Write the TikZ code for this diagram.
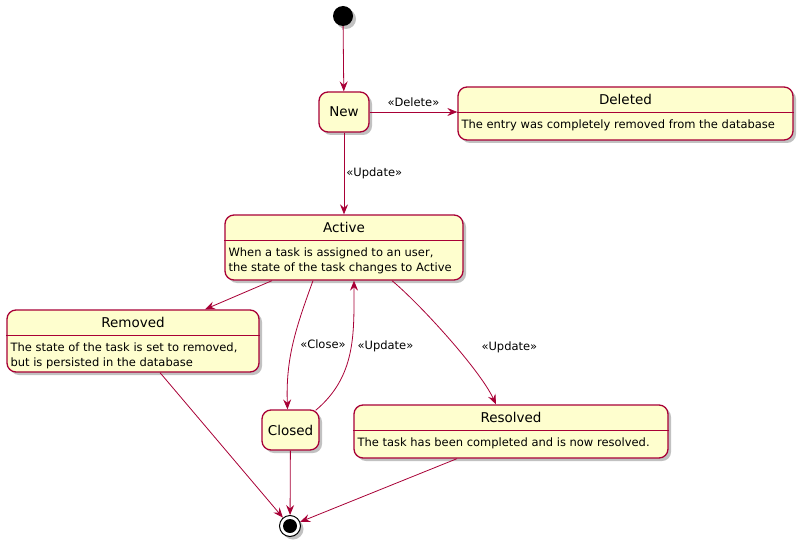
\documentclass[tikz,border=0pt]{standalone}
\usepackage{fontspec}
\setmainfont{DejaVu Sans}
\usetikzlibrary{arrows.meta, positioning, calc, shadows}

\definecolor{umlred}{HTML}{A80036}
\definecolor{umlfill}{HTML}{FEFECE}

\begin{document}
\begin{tikzpicture}[
        x=1pt, y=-1pt,
        state/.style={rectangle, draw=umlred, line width=1.3pt, fill=umlfill, rounded corners=9pt, inner sep=0pt,
            drop shadow={shadow xshift=3pt, shadow yshift=-3pt, opacity=0.35, fill=black!70}},
        title/.style={font=\fontsize{13.5}{15}\selectfont, inner sep=0pt},
        desc/.style={font=\fontsize{11.5}{15}\selectfont, align=left, inner sep=0pt, anchor=north west},
        divider/.style={draw=umlred, line width=1pt},
        trans/.style={-{Stealth[length=10pt, width=8pt, inset=3.5pt]}, draw=umlred, line width=0.8pt},
        label/.style={font=\fontsize{11.5}{13}\selectfont, inner sep=1pt}
    ]
        \useasboundingbox (0,0) rectangle (805,548);
        % start and end
        \node[circle, fill=black, minimum size=20pt, inner sep=0pt,
            drop shadow={shadow xshift=3pt, shadow yshift=-3pt, opacity=0.35, fill=black!70}] (start) at (343,16) {};
        \node[circle, draw=black, line width=1pt, fill=white, minimum size=21pt, inner sep=0pt,
            drop shadow={shadow xshift=3pt, shadow yshift=-3pt, opacity=0.35, fill=black!70}] (end) at (290,526) {};
        \fill[black] (end) circle (7pt);
        % simple states
        \node[state, minimum width=50pt, minimum height=40pt, font=\fontsize{13.5}{15}\selectfont] (new) at (344,112) {New};
        \node[state, minimum width=57pt, minimum height=40pt, font=\fontsize{13.5}{15}\selectfont] (closed) at (290.5,430) {Closed};
        % states with description
        \node[state, minimum width=335pt, minimum height=53pt] (deleted) at (625.5,113.5) {};
        \node[title] (deletedt) at ([yshift=-13]deleted.north) {Deleted};
        \draw[divider] ([yshift=-26]deleted.north west) -- ([yshift=-26]deleted.north east);
        \node[desc] (deletedd) at ([xshift=4, yshift=-33]deleted.north west) {The entry was completely removed from the database};

        \node[state, minimum width=238pt, minimum height=65pt] (active) at (344,247.5) {};
        \node[title] (activet) at ([yshift=-13]active.north) {Active};
        \draw[divider] ([yshift=-26]active.north west) -- ([yshift=-26]active.north east);
        \node[desc] (actived) at ([xshift=4, yshift=-33]active.north west) {When a task is assigned to an user,\\the state of the task changes to Active};

        \node[state, minimum width=252pt, minimum height=62pt] (removed) at (133,341) {};
        \node[title] (removedt) at ([yshift=-13]removed.north) {Removed};
        \draw[divider] ([yshift=-26]removed.north west) -- ([yshift=-26]removed.north east);
        \node[desc] (removedd) at ([xshift=4, yshift=-33]removed.north west) {The state of the task is set to removed,\\but is persisted in the database};

        \node[state, minimum width=314pt, minimum height=53pt] (resolved) at (511,431.5) {};
        \node[title] (resolvedt) at ([yshift=-13]resolved.north) {Resolved};
        \draw[divider] ([yshift=-26]resolved.north west) -- ([yshift=-26]resolved.north east);
        \node[desc] (resolvedd) at ([xshift=4, yshift=-33]resolved.north west) {The task has been completed and is now resolved.};
        % transitions
        \draw[trans] (start) -- (new);
        \draw[trans] (new.east) -- (new.east -| deleted.west) node[midway, above=4pt, label] {«Delete»};
        \draw[trans] (new) -- (active) node[midway, right=1pt, label] {«Update»};
        \draw[trans] ([xshift=-72]active.south) -- ([xshift=72]removed.north);
        \draw[trans] ([xshift=-31]active.south) to[out=-110, in=92] node[pos=0.5, right=6pt, label] {«Close»} ([xshift=-3]closed.north);
        \draw[trans] ([xshift=-4, yshift=-1]closed.north east) to[out=40, in=-90] node[pos=0.55, right=5pt, label] {«Update»} ([xshift=10]active.south);
        \draw[trans] ([xshift=48]active.south) to[out=-40, in=115, looseness=0.6] node[pos=0.56, right=24pt, label] {«Update»} ([xshift=-15]resolved.north);
        \draw[trans] ([xshift=27]removed.south) -- (end);
        \draw[trans] (closed) -- (end);
        \draw[trans] ([xshift=-54]resolved.south) -- (end);
    \end{tikzpicture}
\end{document}
